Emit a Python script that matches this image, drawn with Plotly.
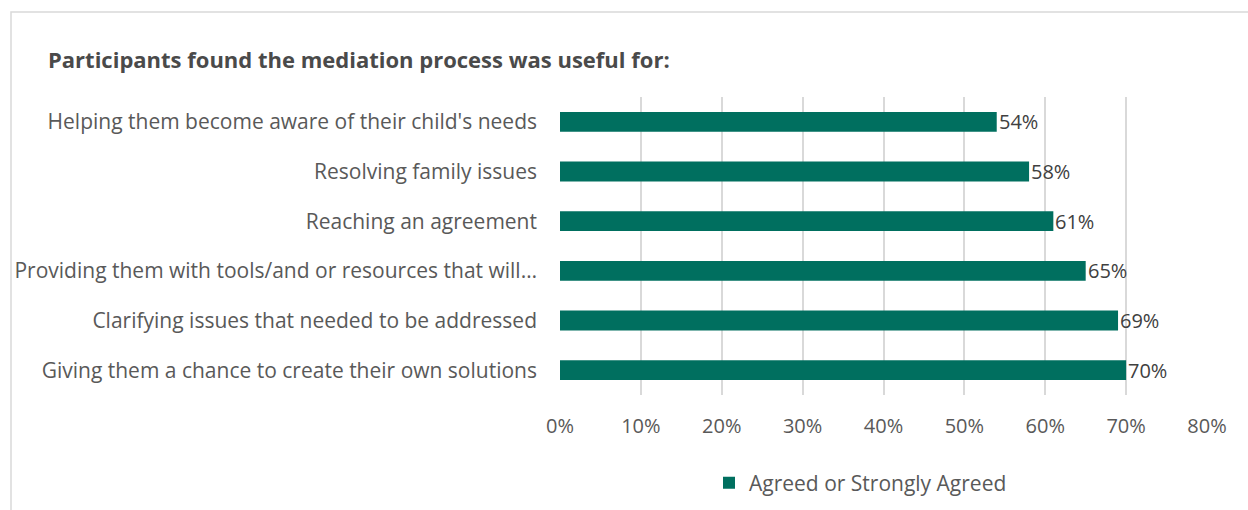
import plotly.graph_objects as go

categories = [
    "Helping them become aware of their child's needs",
    "Resolving family issues",
    "Reaching an agreement",
    "Providing them with tools/and or resources that will…",
    "Clarifying issues that needed to be addressed",
    "Giving them a chance to create their own solutions",
]
agreed_pct = [54, 58, 61, 65, 69, 70]
x_ticks = [0, 10, 20, 30, 40, 50, 60, 70, 80]
x_tick_labels = [f"{v}%" for v in x_ticks]
series_name = "Agreed or Strongly Agreed"
title_text = "Participants found the mediation process was useful for:"

BAR_COLOR = "#006F5F"
FONT = "Open Sans"

fig = go.Figure()
fig.add_trace(go.Bar(
    x=agreed_pct,
    y=categories,
    orientation="h",
    name=series_name,
    marker=dict(color=BAR_COLOR, line=dict(width=0)),
    showlegend=True,
    hoverinfo="skip",
))

# value labels at the end of each bar
for cat, val in zip(categories, agreed_pct):
    fig.add_annotation(
        x=val, y=cat, xref="x", yref="y",
        text=f"{val}%", showarrow=False,
        xanchor="left", yanchor="middle", xshift=0,
        font=dict(family=FONT, size=20, color="#404040"),
    )

# chart frame
fig.add_shape(
    type="rect", xref="paper", yref="paper",
    x0=(11 - 560) / 647, x1=(1260 - 560) / 647,
    y0=(395 - 530) / 298, y1=(395 - 12) / 298,
    line=dict(color="#D9D9D9", width=1.5), fillcolor="rgba(0,0,0,0)",
    layer="below",
)

fig.update_layout(
    width=1248, height=510,
    margin=dict(l=560, r=41, t=97, b=115),
    paper_bgcolor="white", plot_bgcolor="white",
    bargap=0.6,
    title=dict(
        text=f"<b>{title_text}</b>",
        x=48 / 1248, xanchor="left", xref="container",
        y=1 - 60 / 510, yanchor="middle", yref="container",
        font=dict(family=FONT, size=22, color="#4A4A4A"),
    ),
    xaxis=dict(
        range=[0, 80], tickvals=x_ticks, ticktext=x_tick_labels,
        showgrid=True, gridcolor="#D9D9D9", gridwidth=1.5,
        zeroline=False, showline=False, ticks="",
        ticklabelstandoff=17,
        tickfont=dict(family=FONT, size=20, color="#595959"),
        fixedrange=True,
    ),
    yaxis=dict(
        autorange="reversed", showgrid=False, zeroline=False,
        showline=False, ticks="", ticklabelstandoff=22,
        tickfont=dict(family=FONT, size=21, color="#595959"),
        fixedrange=True,
    ),
    legend=dict(
        orientation="h", xref="container", yref="container",
        x=709 / 1248, xanchor="left", y=1 - 483 / 510, yanchor="middle",
        font=dict(family=FONT, size=21, color="#595959"),
        itemwidth=30,
    ),
)

fig.write_html("out.html")
